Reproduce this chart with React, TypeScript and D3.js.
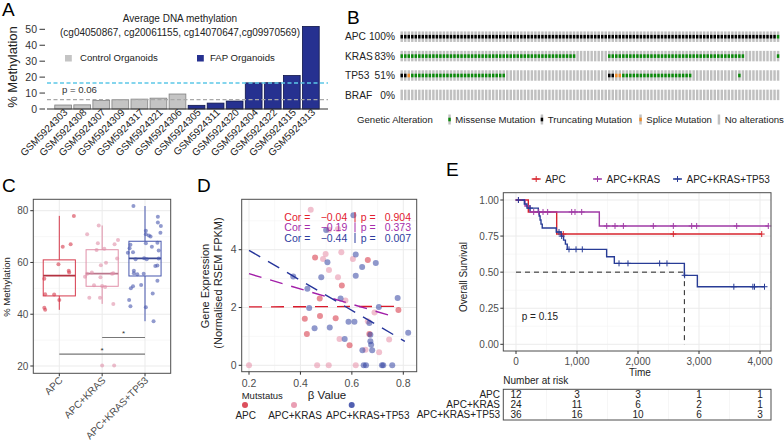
import React from 'react';
import * as d3 from 'd3';

const FONT = '"Liberation Sans", Arial, Helvetica, sans-serif';

// ---------------- Panel A data ----------------
const samplesA = ['GSM5924303','GSM5924308','GSM5924307','GSM5924309','GSM5924317','GSM5924321','GSM5924306','GSM5924305','GSM5924311','GSM5924320','GSM5924304','GSM5924322','GSM5924315','GSM5924313'];
const methylA = [2.5, 2.6, 5.4, 5.8, 6.2, 6.8, 9.4, 2.3, 3.7, 5.0, 16.4, 16.5, 21.0, 51.8];
const groupA = ['Control','Control','Control','Control','Control','Control','Control','FAP','FAP','FAP','FAP','FAP','FAP','FAP'];
const yTicksA = [0, 10, 20, 30, 40, 50];
const fapLineA = 16.3;
const controlLineA = 5.9;

// ---------------- Panel B data ----------------
const genesB = ['APC', 'KRAS', 'TP53', 'BRAF'];
const pctB = ['100%', '83%', '51%', '0%'];
const nSamplesB = 108;
const runsAPC = [[0, 106, 'trunc'], [107, 107, 'missense']];
const runsKRAS = [[0, 49, 'missense'], [59, 97, 'missense'], [107, 107, 'missense']];
const runsTP53 = [[0, 1, 'trunc'], [2, 2, 'splice'], [3, 29, 'missense'], [59, 60, 'trunc'], [61, 62, 'splice'], [63, 82, 'missense'], [96, 96, 'missense']];
const runsBRAF: any[] = [];
const legendB = [['missense', 'Missense Mutation'], ['trunc', 'Truncating Mutation'], ['splice', 'Splice Mutation'], ['none', 'No alterations']];

// ---------------- Panel C data ----------------
const groupsC = ['APC', 'APC+KRAS', 'APC+KRAS+TP53'];
const yTicksC = [20, 40, 60, 80];
const yMinorC = [30, 50, 70];
const pointsC_APC = [[0.34, 78.0], [0.265, 67.0], [0.08, 66.1], [-0.02, 59.3], [0.22, 56.8], [0.23, 56.1], [-0.35, 53.7], [-0.12, 47.6], [-0.33, 47.7], [0.0, 45.5], [-0.35, 42.5], [-0.33, 41.7]];
const pointsC_KRAS = [[-0.08, 74.3], [-0.35, 70.9], [0.37, 68.7], [-0.1, 67.4], [0.29, 67.0], [0.05, 65.3], [-0.13, 64.8], [0.35, 61.5], [0.09, 59.9], [-0.03, 58.9], [-0.24, 56.1], [-0.35, 55.6], [-0.4, 54.5], [0.23, 55.6], [0.26, 55.8], [-0.04, 54.3], [-0.19, 51.2], [0.0, 50.9], [0.07, 50.5], [-0.3, 46.4], [-0.05, 46.4], [0.26, 44.0], [0.0, 20.2], [0.28, 20.2]];
const pointsC_TP53 = [[-0.27, 81.8], [0.3, 77.7], [0.3, 75.4], [0.37, 74.1], [0.02, 72.3], [0.36, 71.5], [0.02, 70.9], [0.09, 70.4], [0.13, 70.0], [-0.36, 65.5], [-0.34, 66.8], [0.02, 67.4], [0.29, 67.6], [0.16, 66.1], [0.32, 64.6], [-0.28, 63.9], [-0.4, 63.8], [-0.02, 61.6], [0.04, 61.2], [0.32, 61.5], [-0.22, 61.2], [0.24, 58.6], [0.29, 58.8], [-0.26, 56.8], [-0.26, 55.8], [-0.18, 55.4], [-0.03, 55.6], [0.29, 52.9], [-0.28, 50.8], [-0.33, 50.0], [-0.09, 51.3], [0.18, 48.0], [-0.37, 45.5], [-0.34, 43.1], [0.02, 42.7], [0.2, 37.3]];
const sigC = [['APC', 'APC+KRAS+TP53', 24.6, '*'], ['APC+KRAS', 'APC+KRAS+TP53', 31.0, '*']];

// ---------------- Panel D data ----------------
const xTicksD = [0.2, 0.4, 0.6, 0.8];
const xMinorD = [0.3, 0.5, 0.7];
const yTicksD = [0, 2, 4];
const yMinorD = [1, 3, 5];
const pointsD_APC = [[0.457, 3.73], [0.662, 3.64], [0.561, 2.76], [0.475, 2.31], [0.781, 1.91], [0.417, 1.61], [0.476, 1.71], [0.537, 1.63], [0.425, 1.08], [0.668, 1.08], [0.591, 0.69]];
const pointsD_KRAS = [[0.44, 5.38], [0.511, 4.69], [0.546, 4.72], [0.498, 3.85], [0.559, 3.91], [0.488, 3.68], [0.604, 3.68], [0.511, 3.30], [0.546, 3.05], [0.575, 2.24], [0.688, 1.83], [0.662, 1.52], [0.552, 0.91], [0.745, 0.89], [0.653, 0.54], [0.706, 0.45], [0.2, 0], [0.465, 0], [0.51, 0], [0.615, 0]];
const pointsD_TP53 = [[0.606, 5.19], [0.50, 4.68], [0.615, 3.83], [0.505, 3.57], [0.693, 3.54], [0.64, 3.40], [0.615, 3.10], [0.372, 3.07], [0.481, 3.05], [0.427, 2.65], [0.556, 2.31], [0.778, 2.33], [0.434, 1.98], [0.705, 2.02], [0.587, 1.51], [0.61, 1.51], [0.668, 1.46], [0.514, 1.31], [0.455, 1.28], [0.672, 1.06], [0.819, 1.13], [0.572, 0.91], [0.672, 0.83], [0.675, 0.71], [0.641, 0.52], [0.679, 0.52], [0.646, 0], [0.655, 0], [0.717, 0], [0.722, 0], [0.757, 0]];
const fitD_APC = [[0.2, 2.02], [0.794, 2.04]];
const fitD_KRAS = [[0.2, 3.17], [0.768, 1.67]];
const fitD_TP53 = [[0.2, 3.98], [0.806, 0.83]];
const corD = ['\u22120.04', '\u22120.19', '\u22120.44'];
const pValD = ['0.904', '0.373', '0.007'];

// ---------------- Panel E data ----------------
const xTicksE = [0, 1000, 2000, 3000, 4000];
const xMinorE = [500, 1500, 2500, 3500];
const yTicksE = [0, 0.25, 0.5, 0.75, 1];
const yMinorE = [0.125, 0.375, 0.625, 0.875];
const kmAPC = [[0, 1], [202, 0.917], [667, 0.764], [4028, 0.764]];
const kmKRAS = [[0, 1], [148, 0.958], [230, 0.917], [1366, 0.82], [4136, 0.82]];
const kmTP53 = [[0, 1], [137, 0.972], [180, 0.944], [366, 0.917], [380, 0.889], [395, 0.861], [410, 0.833], [430, 0.806], [660, 0.778], [740, 0.75], [780, 0.722], [810, 0.694], [840, 0.658], [1486, 0.607], [1612, 0.561], [2760, 0.478], [2973, 0.399], [4074, 0.399]];
const censorAPC = [40, 775, 2579, 4028];
const censorKRAS = [40, 290, 372, 443, 519, 913, 967, 1077, 1487, 1623, 1760, 2251, 2579, 2880, 2962, 3618, 4136];
const censorTP53 = [40, 230, 705, 749, 869, 984, 1087, 1689, 1836, 2355, 2475, 2765, 3571, 3883, 3910, 4074];
const medianTimeE = 2760;
const riskGroupsE = ['APC', 'APC+KRAS', 'APC+KRAS+TP53'];
const riskAPC = [12, 3, 3, 1, 1];
const riskKRAS = [24, 11, 6, 2, 1];
const riskTP53 = [36, 16, 10, 6, 3];

// ---------------- styles ----------------
const CTRL_FILL = '#C4C4C4';
const FAP_FILL = '#263190';
const ONCO = { missense: '#0A8A0A', trunc: '#000000', splice: '#F08A24', none: '#C0C0C0' } as any;
const C_COL = ['#D63A4C', '#E08FA8', '#4757AE'];
const D_PT = ['#D6303F', '#E58DA6', '#3343A3'];
const D_LINE = ['#D9192B', '#A21FA8', '#26359B'];
const D_TXT = ['#E3202F', '#A62DAA', '#2D3C9E'];
const E_COL = ['#D7262F', '#A03BA6', '#283C96'];
const GRID = '#EBEBEB';
const GRID_MINOR = '#F4F4F4';
const BORDER = '#4D4D4D';
const TICKTXT = '#4D4D4D';

function PanelA() {
  const x = d3.scaleBand<string>().domain(samplesA).range([52.5, 321.5]).paddingInner(0.12).paddingOuter(0.12);
  const y = d3.scaleLinear().domain([0, 50]).range([109, 29.3]);
  return (
    <g>
      <text x={2} y={16} fontSize={19}>A</text>
      <text x={180} y={22} fontSize={10} textAnchor="middle" fill="#222">Average DNA methylation</text>
      <text x={180} y={35.5} fontSize={10} textAnchor="middle" fill="#222">(cg04050867, cg20061155, cg14070647,cg09970569)</text>
      <rect x={65} y={55} width={6.8} height={6.5} fill={CTRL_FILL} />
      <text x={80} y={61.3} fontSize={9.6} fill="#222">Control Organoids</text>
      <rect x={197} y={55} width={6.8} height={6.5} fill={FAP_FILL} />
      <text x={210} y={61.3} fontSize={9.6} fill="#222">FAP Organoids</text>
      {yTicksA.map(t => (
        <g key={t}>
          <line x1={39.5} x2={45} y1={y(t)} y2={y(t)} stroke="#333" />
          <text x={37} y={y(t) + 3.7} textAnchor="end" fontSize={10.5} fill="#333">{t}</text>
        </g>
      ))}
      {samplesA.map((s, i) => (
        <rect key={s} x={x(s)} y={y(methylA[i])} width={x.bandwidth()} height={y(0) - y(methylA[i])}
          fill={groupA[i] === 'FAP' ? FAP_FILL : CTRL_FILL}
          stroke={groupA[i] === 'FAP' ? '#10164A' : '#808080'} strokeWidth={0.8} />
      ))}
      <line x1={47} x2={328} y1={y(0)} y2={y(0)} stroke="#333" strokeWidth={1} />
      <line x1={47} x2={328} y1={y(fapLineA)} y2={y(fapLineA)} stroke="#5CC7E8" strokeWidth={1.3} strokeDasharray="4 2.5" />
      <line x1={47} x2={328} y1={y(controlLineA)} y2={y(controlLineA)} stroke="#A8A8A8" strokeWidth={1.1} strokeDasharray="4 2.5" />
      <text x={62} y={93} fontSize={9.6} fill="#333">p = 0.06</text>
      {samplesA.map(s => {
        const cx = (x(s) as number) + x.bandwidth() / 2 + 5;
        return <text key={s} transform={`translate(${cx},113) rotate(-45)`} textAnchor="end" fontSize={10} fill="#222">{s}</text>;
      })}
      <text transform="translate(16.5,67) rotate(-90)" textAnchor="middle" fontSize={13} fill="#222">% Methylation</text>
    </g>
  );
}

function PanelB() {
  const x = d3.scaleBand<number>().domain(d3.range(nSamplesB)).range([400.5, 779.3]).paddingInner(0.3);
  const y = d3.scaleBand<string>().domain(genesB).range([31.45, 100.15]).paddingInner(0.46);
  const runs = [runsAPC, runsKRAS, runsTP53, runsBRAF];
  const bw = x.bandwidth();
  const mh = 3.6;
  const legendX = [448.3, 540.7, 639.3, 717.7];
  return (
    <g>
      <text x={347} y={24} fontSize={19}>B</text>
      {genesB.map((g, gi) => {
        const yc = (y(g) as number) + y.bandwidth() / 2;
        return (
          <g key={g}>
            <text x={345} y={yc + 3.6} fontSize={10.2} fill="#222">{g}</text>
            <text x={395} y={yc + 3.6} fontSize={10.2} fill="#222" textAnchor="end">{pctB[gi]}</text>
            {d3.range(nSamplesB).map(i => (
              <rect key={i} x={x(i)} y={y(g)} width={bw} height={y.bandwidth()} fill={ONCO.none} />
            ))}
            {runs[gi].map((r: any, ri: number) => d3.range(r[0], r[1] + 1).map((i: number) => (
              <rect key={ri + '-' + i} x={x(i)} y={yc - mh / 2} width={bw} height={mh} fill={ONCO[r[2]]} />
            )))}
          </g>
        );
      })}
      <text x={357} y={122.6} fontSize={9.6} fill="#222">Genetic Alteration</text>
      {legendB.map((l, i) => (
        <g key={l[0]}>
          <rect x={legendX[i]} y={114.5} width={bw} height={10} fill={ONCO.none} />
          {l[0] !== 'none' && <rect x={legendX[i]} y={119.5 - mh / 2} width={bw} height={mh} fill={ONCO[l[0]]} />}
          <text x={legendX[i] + 7} y={122.8} fontSize={9.6} fill="#222">{l[1]}</text>
        </g>
      ))}
    </g>
  );
}

function boxStats(vals: number[]) {
  const s = vals.slice().sort(d3.ascending);
  const q1 = d3.quantile(s, 0.25) as number;
  const med = d3.quantile(s, 0.5) as number;
  const q3 = d3.quantile(s, 0.75) as number;
  const iqr = q3 - q1;
  const lo = d3.min(s.filter(v => v >= q1 - 1.5 * iqr)) as number;
  const hi = d3.max(s.filter(v => v <= q3 + 1.5 * iqr)) as number;
  return { q1, med, q3, lo, hi };
}

function PanelC() {
  const x = d3.scalePoint<string>().domain(groupsC).range([59.3, 145]);
  const step = x.step();
  const y = d3.scaleLinear().domain([20, 80]).range([366, 210.7]);
  const L = 33.3, R = 170.7, T = 199.3, B = 373.3;
  const pts = [pointsC_APC, pointsC_KRAS, pointsC_TP53];
  const bw = step * 0.75;
  return (
    <g>
      <text x={2} y={192} fontSize={19}>C</text>
      <rect x={L} y={T} width={R - L} height={B - T} fill="#fff" />
      {yMinorC.map(t => <line key={'m' + t} x1={L} x2={R} y1={y(t)} y2={y(t)} stroke={GRID_MINOR} strokeWidth={0.6} />)}
      {yTicksC.map(t => <line key={t} x1={L} x2={R} y1={y(t)} y2={y(t)} stroke={GRID} strokeWidth={1} />)}
      {groupsC.map(g => <line key={g} x1={x(g)} x2={x(g)} y1={T} y2={B} stroke={GRID} strokeWidth={1} />)}
      {groupsC.map((g, gi) => {
        const st = boxStats(pts[gi].map(p => p[1]));
        const cx = x(g) as number;
        const col = C_COL[gi];
        return (
          <g key={g}>
            <line x1={cx} x2={cx} y1={y(st.q3)} y2={y(st.hi)} stroke={col} strokeWidth={1} />
            <line x1={cx} x2={cx} y1={y(st.q1)} y2={y(st.lo)} stroke={col} strokeWidth={1} />
            <rect x={cx - bw / 2} y={y(st.q3)} width={bw} height={y(st.q1) - y(st.q3)} fill="none" stroke={col} strokeWidth={1} />
            <line x1={cx - bw / 2} x2={cx + bw / 2} y1={y(st.med)} y2={y(st.med)} stroke={d3.color(col)!.darker(0.5).toString()} strokeWidth={1.8} />
          </g>
        );
      })}
      {groupsC.map((g, gi) => pts[gi].map((p, i) => (
        <circle key={g + i} cx={(x(g) as number) + p[0] * step} cy={y(p[1])} r={2} fill={C_COL[gi]} fillOpacity={0.6} />
      )))}
      {sigC.map((s: any, i) => {
        const x1 = x(s[0]) as number, x2 = x(s[1]) as number;
        return (
          <g key={i}>
            <line x1={x1} x2={x2} y1={y(s[2])} y2={y(s[2])} stroke="#777" strokeWidth={1.1} />
            <text x={(x1 + x2) / 2} y={y(s[2]) - 1.5} textAnchor="middle" fontSize={8} fill="#333">{s[3]}</text>
          </g>
        );
      })}
      <rect x={L} y={T} width={R - L} height={B - T} fill="none" stroke={BORDER} strokeWidth={1} />
      {yTicksC.map(t => (
        <g key={t}>
          <line x1={L - 3} x2={L} y1={y(t)} y2={y(t)} stroke="#333" />
          <text x={L - 5} y={y(t) + 3.5} textAnchor="end" fontSize={10} fill={TICKTXT}>{t}</text>
        </g>
      ))}
      {groupsC.map(g => (
        <g key={g}>
          <line x1={x(g)} x2={x(g)} y1={B} y2={B + 3} stroke="#333" />
          <text transform={`translate(${(x(g) as number) + 4},381) rotate(-45)`} textAnchor="end" fontSize={10} fill={TICKTXT}>{g}</text>
        </g>
      ))}
      <text transform="translate(10,287) rotate(-90)" textAnchor="middle" fontSize={9.5} fill="#222">% Methylation</text>
    </g>
  );
}

function PanelD() {
  const x = d3.scaleLinear().domain([0.2, 0.8]).range([249, 403.3]);
  const y = d3.scaleLinear().domain([0, 4]).range([365.3, 249.7]);
  const L = 241.7, R = 416.7, T = 199.3, B = 371.7;
  const pts = [pointsD_APC, pointsD_KRAS, pointsD_TP53];
  const fits = [fitD_APC, fitD_KRAS, fitD_TP53];
  const line = d3.line<number[]>().x(d => x(d[0])).y(d => y(d[1]));
  const rowY = [217, 227.3, 238];
  const legX = [245, 294, 351.7];
  const legLabX = [245.7, 295, 367.8];
  return (
    <g>
      <text x={197} y={192} fontSize={19}>D</text>
      <defs>
        <clipPath id="clipD"><rect x={L} y={T} width={R - L} height={B - T} /></clipPath>
      </defs>
      <rect x={L} y={T} width={R - L} height={B - T} fill="#fff" />
      <g clipPath="url(#clipD)">
        {xMinorD.map(t => <line key={'xm' + t} x1={x(t)} x2={x(t)} y1={T} y2={B} stroke={GRID_MINOR} strokeWidth={0.6} />)}
        {yMinorD.map(t => <line key={'ym' + t} x1={L} x2={R} y1={y(t)} y2={y(t)} stroke={GRID_MINOR} strokeWidth={0.6} />)}
        {xTicksD.map(t => <line key={'x' + t} x1={x(t)} x2={x(t)} y1={T} y2={B} stroke={GRID} />)}
        {yTicksD.map(t => <line key={'y' + t} x1={L} x2={R} y1={y(t)} y2={y(t)} stroke={GRID} />)}
        {pts.map((ps, gi) => ps.map((p, i) => (
          <circle key={gi + '-' + i} cx={x(p[0])} cy={y(p[1])} r={3} fill={D_PT[gi]} fillOpacity={0.55} />
        )))}
        {fits.map((f, gi) => (
          <path key={gi} d={line(f) as string} fill="none" stroke={D_LINE[gi]} strokeWidth={1.4} strokeDasharray="13 9" />
        ))}
        {corD.map((c, i) => (
          <g key={i} fill={D_TXT[i]} fontSize={10.5}>
            <text x={284.3} y={rowY[i] + 3.8}>Cor =</text>
            <text x={347.3} y={rowY[i] + 3.8} textAnchor="end">{c}</text>
            <line x1={355} x2={355} y1={rowY[i] - 5} y2={rowY[i] + 5} stroke={D_TXT[i]} strokeWidth={1} />
            <text x={360.7} y={rowY[i] + 3.8}>p =</text>
            <text x={411} y={rowY[i] + 3.8} textAnchor="end">{pValD[i]}</text>
          </g>
        ))}
      </g>
      <rect x={L} y={T} width={R - L} height={B - T} fill="none" stroke={BORDER} strokeWidth={1} />
      {yTicksD.map(t => (
        <g key={t}>
          <line x1={L - 3} x2={L} y1={y(t)} y2={y(t)} stroke="#333" />
          <text x={L - 5} y={y(t) + 3.7} textAnchor="end" fontSize={10.5} fill={TICKTXT}>{t}</text>
        </g>
      ))}
      {xTicksD.map(t => (
        <g key={t}>
          <line x1={x(t)} x2={x(t)} y1={B} y2={B + 3} stroke="#333" />
          <text x={x(t)} y={386.5} textAnchor="middle" fontSize={10.5} fill={TICKTXT}>{t}</text>
        </g>
      ))}
      <text transform="translate(209,286) rotate(-90)" textAnchor="middle" fontSize={11} fill="#222">Gene Expression</text>
      <text transform="translate(222,283) rotate(-90)" textAnchor="middle" fontSize={11} fill="#222">(Normalised RSEM FPKM)</text>
      <text x={327} y={398.5} textAnchor="middle" fontSize={11.5} fill="#222">{'\u03B2 Value'}</text>
      <text x={241.7} y={398.5} fontSize={9.5} fill="#222">Mutstatus</text>
      {groupsC.map((g, i) => (
        <g key={g}>
          <circle cx={legX[i]} cy={405} r={3} fill={D_PT[i]} fillOpacity={0.85} />
          <text x={legLabX[i]} y={418.5} textAnchor="middle" fontSize={10} fill="#222">{g}</text>
        </g>
      ))}
    </g>
  );
}

function survAt(steps: number[][], t: number) {
  let s = steps[0][1];
  for (const st of steps) if (st[0] <= t) s = st[1];
  return s;
}

function PanelE() {
  const x = d3.scaleLinear().domain([0, 4000]).range([516, 760]);
  const y = d3.scaleLinear().domain([0, 1]).range([344.3, 200]);
  const L = 503.3, R = 771, T = 192.7, B = 351;
  const kms = [kmAPC, kmKRAS, kmTP53];
  const cens = [censorAPC, censorKRAS, censorTP53];
  const risks = [riskAPC, riskKRAS, riskTP53];
  const line = d3.line<number[]>().x(d => x(d[0])).y(d => y(d[1])).curve(d3.curveStepAfter);
  const fmt = d3.format(',');
  const legItems = [[531.7, 'APC'], [593, 'APC+KRAS'], [673, 'APC+KRAS+TP53']];
  const rowY = [394.3, 404, 414];
  const plus = (cx: number, cy: number, col: string, k: string) => (
    <g key={k} stroke={col} strokeWidth={1}>
      <line x1={cx - 3} x2={cx + 3} y1={cy} y2={cy} />
      <line x1={cx} x2={cx} y1={cy - 3} y2={cy + 3} />
    </g>
  );
  return (
    <g>
      <text x={446} y={176} fontSize={19}>E</text>
      {legItems.map((l: any, i) => (
        <g key={i}>
          <line x1={l[0]} x2={l[0] + 9} y1={179} y2={179} stroke={E_COL[i]} strokeWidth={1.4} />
          {plus(l[0] + 4.5, 179, E_COL[i], 'lp' + i)}
          <text x={l[0] + 13.5} y={182.5} fontSize={10} fill="#222">{l[1]}</text>
        </g>
      ))}
      <rect x={L} y={T} width={R - L} height={B - T} fill="#fff" />
      {xMinorE.map(t => <line key={'xm' + t} x1={x(t)} x2={x(t)} y1={T} y2={B} stroke={GRID_MINOR} strokeWidth={0.6} />)}
      {yMinorE.map(t => <line key={'ym' + t} x1={L} x2={R} y1={y(t)} y2={y(t)} stroke={GRID_MINOR} strokeWidth={0.6} />)}
      {xTicksE.map(t => <line key={'x' + t} x1={x(t)} x2={x(t)} y1={T} y2={B} stroke={GRID} />)}
      {yTicksE.map(t => <line key={'y' + t} x1={L} x2={R} y1={y(t)} y2={y(t)} stroke={GRID} />)}
      <line x1={x(0)} x2={x(medianTimeE)} y1={y(0.5)} y2={y(0.5)} stroke="#222" strokeWidth={1} strokeDasharray="5 4" />
      <line x1={x(medianTimeE)} x2={x(medianTimeE)} y1={y(0.5)} y2={y(0)} stroke="#222" strokeWidth={1} strokeDasharray="5 4" />
      {kms.map((k, i) => (
        <path key={i} d={line(k) as string} fill="none" stroke={E_COL[i]} strokeWidth={1.4} />
      ))}
      {cens.map((c, i) => c.map((t, j) => plus(x(t), y(survAt(kms[i], t)), E_COL[i], 'c' + i + '-' + j)))}
      <text x={521.7} y={319.5} fontSize={10} fill="#222">p = 0.15</text>
      <rect x={L} y={T} width={R - L} height={B - T} fill="none" stroke={BORDER} strokeWidth={1} />
      {yTicksE.map(t => (
        <g key={t}>
          <line x1={L - 3} x2={L} y1={y(t)} y2={y(t)} stroke="#333" />
          <text x={L - 4.5} y={y(t) + 3.5} textAnchor="end" fontSize={10} fill={TICKTXT}>{d3.format('.2f')(t)}</text>
        </g>
      ))}
      {xTicksE.map(t => (
        <g key={t}>
          <line x1={x(t)} x2={x(t)} y1={B} y2={B + 3} stroke="#333" />
          <text x={x(t)} y={364.5} textAnchor="middle" fontSize={10} fill={TICKTXT}>{fmt(t)}</text>
        </g>
      ))}
      <text x={640} y={376} textAnchor="middle" fontSize={10} fill="#222">Time</text>
      <text transform="translate(467,277) rotate(-90)" textAnchor="middle" fontSize={10} fill="#222">Overall Survival</text>
      <text x={503.3} y={383.5} fontSize={10} fill="#222">Number at risk</text>
      <rect x={L} y={389.3} width={R - L} height={30.7} fill="#fff" />
      {xMinorE.concat(xTicksE).map(t => <line key={'t' + t} x1={x(t)} x2={x(t)} y1={389.3} y2={420} stroke={GRID_MINOR} strokeWidth={0.8} />)}
      <rect x={L} y={389.3} width={R - L} height={30.7} fill="none" stroke={BORDER} strokeWidth={1} />
      {riskGroupsE.map((g, i) => (
        <g key={g}>
          <text x={500} y={rowY[i] + 3.5} textAnchor="end" fontSize={10} fill="#222">{g}</text>
          {risks[i].map((n, j) => (
            <text key={j} x={x(xTicksE[j])} y={rowY[i] + 3.5} textAnchor="middle" fontSize={10} fill="#222">{n}</text>
          ))}
        </g>
      ))}
    </g>
  );
}

export default function App() {
  return (
    <div style={{ position: 'absolute', left: 0, top: 0, width: 784, height: 440, background: '#fff' }}>
      <svg width={784} height={440} style={{ display: 'block', fontFamily: FONT }}>
        <rect width={784} height={440} fill="#fff" />
        <PanelA />
        <PanelB />
        <PanelC />
        <PanelD />
        <PanelE />
      </svg>
    </div>
  );
}
